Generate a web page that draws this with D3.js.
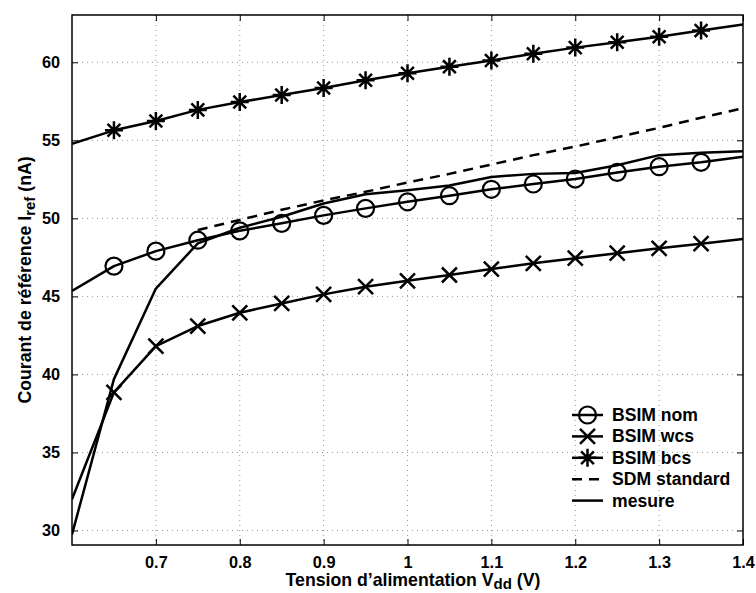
<!DOCTYPE html>
<html><head><meta charset="utf-8">
<script src="https://cdn.jsdelivr.net/npm/d3@7"></script>
<style>body{margin:0;background:#fff}svg{display:block}</style>
</head><body>
<script>
const voltages = [0.6,0.65,0.7,0.75,0.8,0.85,0.9,0.95,1.0,1.05,1.1,1.15,1.2,1.25,1.3,1.35,1.4];
const bsimNom = [45.35,46.94,47.9,48.6,49.2,49.68,50.19,50.64,51.06,51.45,51.86,52.2,52.52,52.94,53.31,53.59,53.95];
const bsimWcs = [32.0,38.85,41.81,43.1,43.95,44.55,45.13,45.62,46.0,46.37,46.75,47.12,47.45,47.77,48.08,48.38,48.68];
const bsimBcs = [54.78,55.64,56.24,56.95,57.45,57.9,58.35,58.85,59.3,59.72,60.12,60.55,60.94,61.28,61.64,62.03,62.43];
const sdmVolt = [0.75,0.8,0.85,0.9,0.95,1.0,1.05,1.1,1.15,1.2,1.25,1.3,1.35,1.4];
const sdmStd = [49.25,49.9,50.55,51.15,51.7,52.3,52.85,53.45,54.05,54.6,55.2,55.8,56.45,57.05];
const mesure = [29.75,39.7,45.5,48.4,49.4,50.1,50.95,51.55,51.8,52.1,52.65,52.85,52.9,53.4,54.05,54.2,54.3];
const xTicks = [0.7,0.8,0.9,1,1.1,1.2,1.3,1.4];
const yTicks = [30,35,40,45,50,55,60];
const legendLabels = ["BSIM nom","BSIM wcs","BSIM bcs","SDM standard","mesure"];

const W = 756, H = 593;
const L = 72, R = 743, T = 15, B = 545;
const FONT = "'Liberation Sans', Arial, sans-serif";
const svg = d3.select("body").append("svg").attr("width", W).attr("height", H)
  .style("font-family", FONT).style("font-weight", "bold");

const x = d3.scaleLinear().domain([0.6, 1.4]).range([L, R]);
const y = d3.scaleLinear().domain([29.07, 63.03]).range([B, T]);

// grid
const grid = svg.append("g").attr("stroke", "#999").attr("stroke-width", 1).attr("stroke-dasharray", "1,4");
xTicks.filter(t => t < 1.4).forEach(t => grid.append("line").attr("x1", x(t)).attr("x2", x(t)).attr("y1", T).attr("y2", B));
yTicks.forEach(t => grid.append("line").attr("x1", L).attr("x2", R).attr("y1", y(t)).attr("y2", y(t)));

// axes
const xAxis = d3.axisBottom(x).tickValues(xTicks).tickSize(-6).tickPadding(11).tickFormat(d3.format("~g"));
const yAxis = d3.axisLeft(y).tickValues(yTicks).tickSize(-6).tickPadding(12).tickFormat(d3.format("d"));
const gx = svg.append("g").attr("transform", `translate(0,${B})`).call(xAxis);
const gy = svg.append("g").attr("transform", `translate(${L},0)`).call(yAxis);
const gxt = svg.append("g").attr("transform", `translate(0,${T})`).call(d3.axisTop(x).tickValues(xTicks).tickSize(-6).tickFormat(""));
const gyr = svg.append("g").attr("transform", `translate(${R},0)`).call(d3.axisRight(y).tickValues(yTicks).tickSize(-6).tickFormat(""));
[gx, gy, gxt, gyr].forEach(g => {
  g.select(".domain").remove();
  g.selectAll("line").attr("stroke", "#000").attr("stroke-width", 1);
  g.selectAll("text").attr("font-size", 16.3).attr("font-family", FONT).attr("font-weight", "bold").attr("fill", "#000");
});
svg.append("rect").attr("x", L).attr("y", T).attr("width", R - L).attr("height", B - T)
  .attr("fill", "none").attr("stroke", "#000").attr("stroke-width", 1.5);

// lines
const line = d3.line().x(d => x(d[0])).y(d => y(d[1]));
svg.append("clipPath").attr("id", "c").append("rect").attr("x", L).attr("y", T).attr("width", R - L).attr("height", B - T);
const plot = svg.append("g").attr("clip-path", "url(#c)");
function series(vals, xs, dash) {
  plot.append("path").datum(xs.map((v, i) => [v, vals[i]])).attr("d", line)
    .attr("fill", "none").attr("stroke", "#000").attr("stroke-width", 2.5)
    .attr("stroke-dasharray", dash || null).attr("stroke-linejoin", "round");
}
series(mesure, voltages);
series(sdmStd, sdmVolt, "10,7");
series(bsimNom, voltages);
series(bsimWcs, voltages);
series(bsimBcs, voltages);

function marker(g, type, cx, cy) {
  if (type === "o") {
    g.append("circle").attr("cx", cx).attr("cy", cy).attr("r", 8.5).attr("fill", "none").attr("stroke", "#000").attr("stroke-width", 2.2);
  } else if (type === "x") {
    const s = 7.5;
    g.append("path").attr("d", `M${cx-s},${cy-s}L${cx+s},${cy+s}M${cx-s},${cy+s}L${cx+s},${cy-s}`).attr("stroke", "#000").attr("stroke-width", 2.5);
  } else if (type === "*") {
    const s = 9, d = 6.4;
    g.append("path").attr("d", `M${cx-s},${cy}L${cx+s},${cy}M${cx},${cy-s}L${cx},${cy+s}M${cx-d},${cy-d}L${cx+d},${cy+d}M${cx-d},${cy+d}L${cx+d},${cy-d}`).attr("stroke", "#000").attr("stroke-width", 2.5);
  }
}
const mk = svg.append("g");
voltages.forEach((v, i) => {
  if (i === 0 || i === voltages.length - 1) return;
  marker(mk, "o", x(v), y(bsimNom[i]));
  marker(mk, "x", x(v), y(bsimWcs[i]));
  marker(mk, "*", x(v), y(bsimBcs[i]));
});

// legend
const lg = svg.append("g");
const types = ["o", "x", "*", "dash", "solid"];
legendLabels.forEach((lab, i) => {
  const ly = 415 + i * 21.4;
  const x1 = 572, x2 = 603;
  lg.append("line").attr("x1", x1).attr("x2", x2).attr("y1", ly).attr("y2", ly).attr("stroke", "#000").attr("stroke-width", 2.5)
    .attr("stroke-dasharray", types[i] === "dash" ? "10,7" : null);
  if (["o", "x", "*"].includes(types[i])) marker(lg, types[i], (x1 + x2) / 2, ly);
  lg.append("text").attr("x", 612).attr("y", ly + 6).attr("font-size", 17.6).text(lab);
});

// axis titles
const xt = svg.append("text").attr("x", 413).attr("y", 585.5).attr("text-anchor", "middle").attr("font-size", 17.7);
xt.append("tspan").text("Tension d\u2019alimentation V");
xt.append("tspan").attr("dy", 3).attr("font-size", 15).text("dd");
xt.append("tspan").attr("dy", -3).text(" (V)");
const yt = svg.append("text").attr("transform", `translate(31,${(T + B) / 2}) rotate(-90)`).attr("text-anchor", "middle").attr("font-size", 17.7);
yt.append("tspan").text("Courant de r\u00e9f\u00e9rence I");
yt.append("tspan").attr("dy", 4).attr("font-size", 15).text("ref");
yt.append("tspan").attr("dy", -4).text(" (nA)");
</script>
</body></html>
